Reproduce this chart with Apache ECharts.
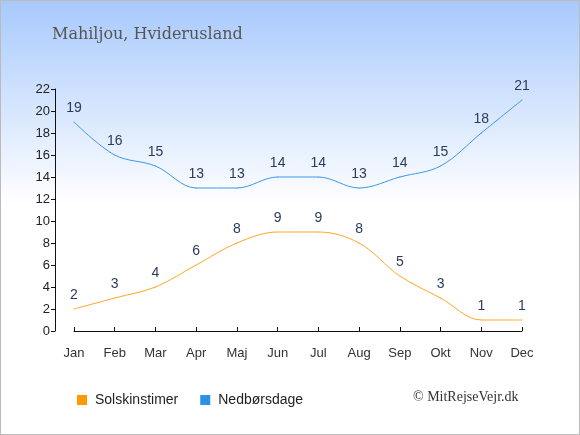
<!DOCTYPE html>
<html lang="da">
<head>
    <meta charset="UTF-8">
    <title>Mahiljou, Hviderusland</title>
    <script src="https://cdn.jsdelivr.net/npm/echarts@6/dist/echarts.min.js"></script>
    <style>
        html, body { margin: 0; padding: 0; background: #fff; }
    </style>
</head>
<body>
<div id="main" style="width: 580px;height:435px;"></div>
<script type="text/javascript">
    // måneder og værdier
    var months = ['Jan', 'Feb', 'Mar', 'Apr', 'Maj', 'Jun', 'Jul', 'Aug', 'Sep', 'Okt', 'Nov', 'Dec'];
    var sunHours = [2, 3, 4, 6, 8, 9, 9, 8, 5, 3, 1, 1];
    var rainDays = [19, 16, 15, 13, 13, 14, 14, 13, 14, 15, 18, 21];
    var yTicks = [0, 2, 4, 6, 8, 10, 12, 14, 16, 18, 20, 22];

    var myChart = echarts.init(document.getElementById('main'));

    function labelStyle() {
        return {
            show: true,
            position: 'top',
            distance: 6,
            opacity: 1,
            color: '#2a3b5c',
            fontSize: 14,
            fontFamily: 'Liberation Sans, Arial, sans-serif'
        };
    }

    var option = {
        animation: false,
        backgroundColor: '#ffffff',
        graphic: [
            {
                type: 'rect',
                silent: true,
                z: -10,
                shape: { x: 0, y: 0, width: 580, height: 435 },
                style: {
                    fill: new echarts.graphic.LinearGradient(0, 0, 0, 1, [
                        { offset: 0, color: '#a7c9fc' },
                        { offset: 0.47, color: '#ffffff' },
                        { offset: 1, color: '#ffffff' }
                    ]),
                    stroke: '#bbbbbb',
                    lineWidth: 2
                }
            },
            {
                type: 'text',
                left: 413,
                top: 390,
                style: {
                    text: '© MitRejseVejr.dk',
                    fill: '#333',
                    font: '14px "Liberation Serif", serif'
                }
            }
        ],
        title: {
            text: 'Mahiljou, Hviderusland',
            left: 47,
            top: 22,
            textStyle: {
                color: '#555',
                fontSize: 16,
                fontWeight: 'normal',
                fontFamily: 'DejaVu Serif, serif'
            }
        },
        legend: {
            left: 72,
            top: 388,
            itemWidth: 10,
            itemHeight: 10,
            itemGap: 22,
            icon: 'rect',
            textStyle: {
                color: '#222',
                fontSize: 14,
                padding: [0, 0, 0, 3],
                fontFamily: 'Liberation Sans, Arial, sans-serif'
            },
            data: [
                { name: 'Solskinstimer', itemStyle: { color: '#ff9900', opacity: 1 } },
                { name: 'Nedbørsdage', itemStyle: { color: '#2b90e6', opacity: 1 } }
            ]
        },
        grid: {
            left: 74,
            right: 58,
            top: 89,
            bottom: 104
        },
        xAxis: {
            type: 'category',
            data: months,
            boundaryGap: false,
            offset: 11,
            axisLine: { lineStyle: { color: '#111', width: 1 } },
            axisTick: { inside: true, length: 4, lineStyle: { color: '#111' } },
            axisLabel: {
                color: '#333',
                fontSize: 13,
                margin: 5,
                fontFamily: 'Liberation Sans, Arial, sans-serif'
            },
            splitLine: { show: false }
        },
        yAxis: {
            type: 'value',
            min: yTicks[0],
            max: yTicks[yTicks.length - 1],
            interval: 2,
            offset: 19,
            axisLine: { show: true, lineStyle: { color: '#111', width: 1 } },
            axisTick: { show: true, length: 4, lineStyle: { color: '#111' } },
            axisLabel: {
                color: '#222',
                fontSize: 13,
                margin: 5,
                fontFamily: 'Liberation Sans, Arial, sans-serif'
            },
            splitLine: { show: false }
        },
        series: [
            {
                name: 'Solskinstimer',
                type: 'line',
                data: sunHours,
                smooth: 0.35,
                symbol: 'circle',
                symbolSize: 1,
                showSymbol: true,
                color: '#ff9900',
                itemStyle: { color: '#ffa726' },
                lineStyle: { color: '#ffa726', width: 1 },
                label: labelStyle()
            },
            {
                name: 'Nedbørsdage',
                type: 'line',
                data: rainDays,
                smooth: 0.35,
                symbol: 'circle',
                symbolSize: 1,
                showSymbol: true,
                color: '#2b90e6',
                itemStyle: { color: '#3d97e8' },
                lineStyle: { color: '#3d97e8', width: 1 },
                label: labelStyle()
            }
        ]
    };

    myChart.setOption(option);
</script>
</body>
</html>
